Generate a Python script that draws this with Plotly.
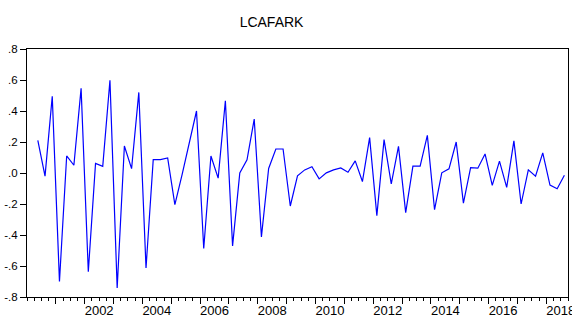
import plotly.graph_objects as go

title_text = "LCAFARK"
start_year = 2000
start_quarter = 2  # first observation 2000Q2

values = [
    0.21, -0.02, 0.495, -0.70, 0.11, 0.05, 0.546, -0.637, 0.062, 0.043, 0.598, -0.742,
    0.174, 0.028, 0.52, -0.613, 0.086, 0.086, 0.097, -0.204, -0.01, 0.187, 0.40, -0.487,
    0.11, -0.033, 0.466, -0.47, 0.0, 0.085, 0.348, -0.412, 0.029, 0.155, 0.155, -0.213,
    -0.018, 0.02, 0.041, -0.038, 0.001, 0.02, 0.033, 0.005, 0.078, -0.055, 0.228, -0.275,
    0.215, -0.07, 0.172, -0.256, 0.044, 0.044, 0.243, -0.237, 0.001, 0.027, 0.2, -0.194,
    0.035, 0.031, 0.123, -0.08, 0.077, -0.093, 0.207, -0.2, 0.02, -0.02, 0.13, -0.078,
    -0.102, -0.014,
]

year_labels = ["2002", "2004", "2006", "2008", "2010", "2012", "2014", "2016", "2018"]
y_tick_vals = [-0.8, -0.6, -0.4, -0.2, 0.0, 0.2, 0.4, 0.6, 0.8]
y_tick_text = ["-.8", "-.6", "-.4", "-.2", ".0", ".2", ".4", ".6", ".8"]

# quarter-centred positions in decimal years
first_idx = start_quarter - 1
x_vals = [start_year + (first_idx + i) * 0.25 + 0.125 for i in range(len(values))]
x_range = [start_year, start_year + (first_idx + len(values)) * 0.25]

year_ticks = list(range(start_year + 1, int(x_range[1]) + 1))
quarter_ticks = [start_year + k * 0.25 for k in range(int((x_range[1] - start_year) * 4) + 1)]
label_pos = [int(y) + 0.5 for y in year_labels]

FONT = "Liberation Sans, Arial, sans-serif"

fig = go.Figure()
fig.add_trace(go.Scatter(x=x_vals, y=values, mode="lines",
                         line=dict(color="#0000FF", width=1.2),
                         hoverinfo="skip", showlegend=False))
fig.add_trace(go.Scatter(x=x_vals, y=values, mode="lines", xaxis="x2",
                         line=dict(color="rgba(0,0,0,0)", width=0),
                         hoverinfo="skip", showlegend=False))

fig.update_layout(
    width=572, height=320,
    margin=dict(l=27, r=4, t=49, b=23),
    paper_bgcolor="white", plot_bgcolor="white",
    font=dict(family=FONT, color="black"),
    title=dict(text=title_text, x=0.452, xref="paper", xanchor="center",
               y=1 - 21.8 / 320, yref="container", yanchor="middle",
               font=dict(size=14, family=FONT, color="black")),
    xaxis=dict(range=x_range, showgrid=False, zeroline=False, automargin=False,
               showline=True, linecolor="black", linewidth=1, mirror=True,
               tickmode="array", tickvals=year_ticks, ticks="outside",
               ticklen=6, tickwidth=1, tickcolor="black", showticklabels=False,
               minor=dict(tickmode="array", tickvals=quarter_ticks, ticks="outside",
                          ticklen=3, tickwidth=1, tickcolor="black", showgrid=False)),
    xaxis2=dict(range=x_range, overlaying="x", anchor="y", side="bottom",
                showgrid=False, zeroline=False, showline=False, automargin=False,
                tickmode="array", tickvals=label_pos, ticktext=year_labels,
                ticks="", ticklabeloverflow="allow", ticklabelstandoff=4,
                tickfont=dict(size=13, family=FONT, color="black")),
    yaxis=dict(range=[-0.8, 0.8], showgrid=False, zeroline=False, automargin=False,
               showline=True, linecolor="black", linewidth=1, mirror=True,
               tickmode="array", tickvals=y_tick_vals, ticktext=y_tick_text,
               ticks="outside", ticklen=6, tickwidth=1, tickcolor="black",
               ticklabeloverflow="allow",
               tickfont=dict(size=11.5, family=FONT, color="black")),
)

fig.write_html("out.html",
               config={"displayModeBar": False},
               post_script="document.body.style.margin='0';document.body.style.overflow='hidden';")
